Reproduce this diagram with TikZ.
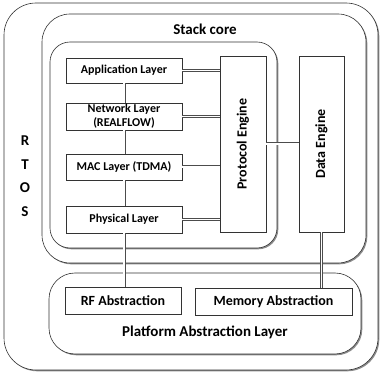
\documentclass[tikz,border=0pt]{standalone}
\usepackage{fontspec}
\setmainfont{Carlito}
\usetikzlibrary{arrows.meta,shadows,positioning}
\begin{document}
\begin{tikzpicture}[x=1pt,y=-1pt,
  shad/.style={drop shadow={shadow xshift=1.3pt,shadow yshift=-1.3pt,fill=black,opacity=0.45}},
  layer/.style={draw=black!80,line width=0.6pt,fill=white,shad,inner sep=0pt,align=center,font=\bfseries\fontsize{12}{14}\selectfont},
  abox/.style={layer,font=\bfseries\fontsize{14}{16}\selectfont},
  engine/.style={layer,minimum width=46pt,minimum height=176pt,font=\bfseries\fontsize{14}{16}\selectfont},
  container/.style={draw=black!80,line width=0.6pt,fill=white,shad,inner sep=0pt},
  link/.style={draw=black!70,line width=0.6pt,double=white,double distance=1.8pt},
  lbl/.style={font=\bfseries\fontsize{15}{17}\selectfont,inner sep=0pt}]
\useasboundingbox (0,0) rectangle (381,377);
% containers
\node[container,rounded corners=32pt,minimum width=374pt,minimum height=367pt] (rtos) at (191,186.5) {};
\node[container,rounded corners=28pt,minimum width=324pt,minimum height=249pt] (stack) at (204,138.5) {};
\node[container,rounded corners=20pt,minimum width=227pt,minimum height=206pt] (inner) at (163.5,145) {};
\node[container,rounded corners=26pt,minimum width=312pt,minimum height=81pt] (pal) at (205,313.5) {};
% labels
\node[lbl] (stacklbl) at (205,29) {Stack core};
\node[lbl] (pallbl) at (205,332) {Platform Abstraction Layer};
\node[lbl,align=center,font=\bfseries\fontsize{15}{23.5}\selectfont] (rtoslbl) at (25,176) {R\\T\\O\\S};
% layers
\node[layer,minimum width=116pt,minimum height=25pt] (app) at (124,70.5) {Application Layer};
\node[layer,minimum width=116pt,minimum height=27pt] (net) at (124,116.5) {Network Layer\\(REALFLOW)};
\node[layer,minimum width=116pt,minimum height=26pt] (mac) at (124,167) {MAC Layer (TDMA)};
\node[layer,minimum width=116pt,minimum height=27pt] (phy) at (124,219.5) {Physical Layer};
\node[engine] (pe) at (243,144) {\rotatebox{90}{Protocol Engine}};
\node[engine,minimum width=45pt] (de) at (321.5,144) {\rotatebox{90}{Data Engine}};
\node[abox,minimum width=116pt,minimum height=27pt] (rf) at (123,300.5) {RF Abstraction};
\node[abox,minimum width=157pt,minimum height=27pt] (mem) at (273.5,301.5) {Memory Abstraction};
% links
\draw[link] (app.east) -- (app.east -| pe.west);
\draw[link] (net.east) -- (net.east -| pe.west);
\draw[link] (mac.east) -- (mac.east -| pe.west);
\draw[link] (phy.east) -- (phy.east -| pe.west);
\draw[link] (pe.east) -- (de.west);
\draw[link] (app.south) -- (net.north);
\draw[link] (net.south) -- (mac.north);
\draw[link] (mac.south) -- (phy.north);
\draw[link] (phy.south) -- (phy.south |- rf.north);
\draw[link] (de.south) -- (de.south |- mem.north);
\end{tikzpicture}
\end{document}
